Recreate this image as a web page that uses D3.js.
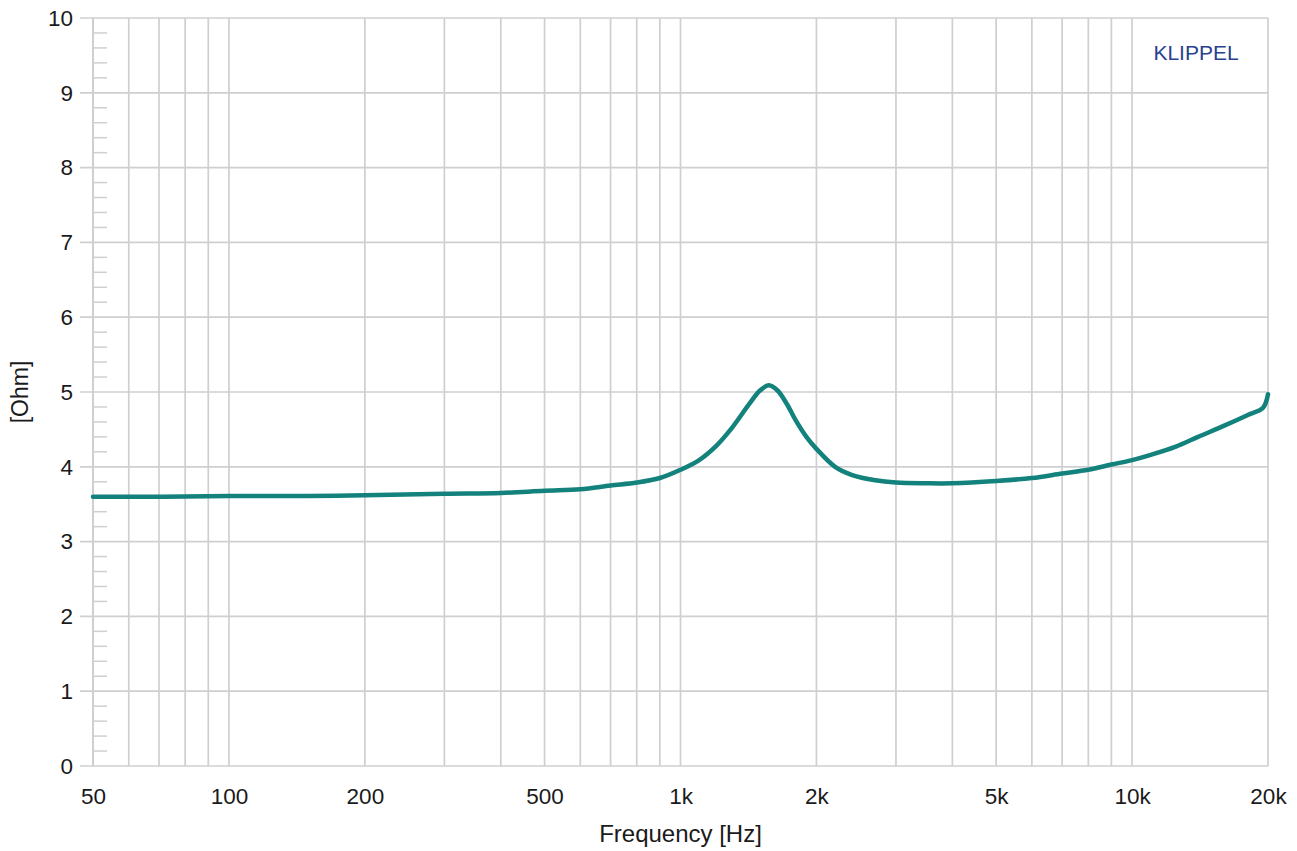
<!DOCTYPE html>
<html>
<head>
<meta charset="utf-8">
<script src="https://cdn.jsdelivr.net/npm/d3@7"></script>
<style>
  html, body { margin: 0; padding: 0; background: #fff; }
  svg { display: block; font-family: "Liberation Sans", Arial, sans-serif; }
</style>
</head>
<body>
<svg id="chart" width="1297" height="851"></svg>
<script>
// ---- data ----
const freqs = [50, 70, 100, 150, 200, 300, 400, 500, 600, 700, 800, 900, 1000, 1100, 1200, 1300, 1420, 1500, 1570, 1640, 1720, 1800, 1900, 2000, 2200, 2400, 2700, 3000, 3500, 4000, 5000, 6000, 7000, 8000, 9000, 10000, 11000, 12500, 14000, 16000, 18000, 19500, 20000];
const ohms  = [3.60, 3.60, 3.61, 3.61, 3.62, 3.64, 3.65, 3.68, 3.70, 3.75, 3.79, 3.85, 3.96, 4.09, 4.28, 4.52, 4.84, 5.02, 5.09, 5.02, 4.84, 4.62, 4.40, 4.24, 4.00, 3.89, 3.82, 3.79, 3.78, 3.78, 3.81, 3.85, 3.91, 3.96, 4.03, 4.09, 4.16, 4.27, 4.40, 4.55, 4.69, 4.79, 4.97];
const xTickValues = [50, 100, 200, 500, 1000, 2000, 5000, 10000, 20000];
const xTickLabels = ["50", "100", "200", "500", "1k", "2k", "5k", "10k", "20k"];
const xGridValues = [60, 70, 80, 90, 100, 200, 300, 400, 500, 600, 700, 800, 900, 1000, 2000, 3000, 4000, 5000, 6000, 7000, 8000, 9000, 10000, 20000];
const yTickValues = [0, 1, 2, 3, 4, 5, 6, 7, 8, 9, 10];
const yMinorValues = d3.range(0, 10, 0.2).filter(v => Math.abs(v - Math.round(v)) > 1e-6);
const xTitle = "Frequency [Hz]";
const yTitle = "[Ohm]";
const brand = "KLIPPEL";

(function () {
  // ---- layout ----
  const svg = d3.select("#chart");
  const pl = 93, pr = 1268, pt = 18, pb = 766;
  const x = d3.scaleLog().domain([50, 20000]).range([pl, pr]);
  const y = d3.scaleLinear().domain([0, 10]).range([pb, pt]);
  const gridColor = "#cfcfcf";
  const fs = 22.5;

  // horizontal grid lines (extend left as tick marks)
  svg.append("g").selectAll("line").data(yTickValues).join("line")
    .attr("x1", pl - 13).attr("x2", pr)
    .attr("y1", d => y(d)).attr("y2", d => y(d))
    .attr("stroke", gridColor).attr("stroke-width", 1.7);

  // vertical grid lines
  svg.append("g").selectAll("line").data(xGridValues).join("line")
    .attr("x1", d => x(d)).attr("x2", d => x(d))
    .attr("y1", pt).attr("y2", pb)
    .attr("stroke", gridColor).attr("stroke-width", 1.7);

  // left axis line
  svg.append("line")
    .attr("x1", pl).attr("x2", pl).attr("y1", pt).attr("y2", pb)
    .attr("stroke", gridColor).attr("stroke-width", 2);

  // minor y ticks
  svg.append("g").selectAll("line").data(yMinorValues).join("line")
    .attr("x1", pl).attr("x2", pl + 14)
    .attr("y1", d => y(d)).attr("y2", d => y(d))
    .attr("stroke", gridColor).attr("stroke-width", 1.5);

  // x tick labels via axis
  const xAxis = d3.axisBottom(x)
    .tickValues(xTickValues)
    .tickFormat((d, i) => xTickLabels[i])
    .tickSize(0).tickPadding(22);
  const gx = svg.append("g").attr("transform", `translate(0,${pb})`).call(xAxis);
  gx.select(".domain").remove();
  gx.selectAll("text").attr("font-size", fs).attr("fill", "#1a1a1a")
    .attr("font-family", "'Liberation Sans', Arial, sans-serif");

  // y tick labels via axis
  const yAxis = d3.axisLeft(y)
    .tickValues(yTickValues)
    .tickFormat(d3.format("d"))
    .tickSize(0).tickPadding(20);
  const gy = svg.append("g").attr("transform", `translate(${pl},0)`).call(yAxis);
  gy.select(".domain").remove();
  gy.selectAll("text").attr("font-size", fs).attr("fill", "#1a1a1a")
    .attr("font-family", "'Liberation Sans', Arial, sans-serif");

  // titles
  svg.append("text").attr("x", x(1000)).attr("y", 842)
    .attr("text-anchor", "middle").attr("font-size", 24).attr("fill", "#1a1a1a")
    .text(xTitle);
  svg.append("text")
    .attr("transform", `translate(28,${y(5)}) rotate(-90)`)
    .attr("text-anchor", "middle").attr("font-size", 23).attr("fill", "#1a1a1a")
    .text(yTitle);

  // brand
  svg.append("text").attr("x", 1196).attr("y", 60)
    .attr("text-anchor", "middle").attr("font-size", 21).attr("fill", "#2b4190")
    .text(brand);

  // curve
  const line = d3.line()
    .x((d, i) => x(freqs[i]))
    .y(d => y(d))
    .curve(d3.curveCatmullRom.alpha(0.5));
  svg.append("path").datum(ohms)
    .attr("d", line)
    .attr("fill", "none")
    .attr("stroke", "#13827c")
    .attr("stroke-width", 4.5)
    .attr("stroke-linejoin", "round")
    .attr("stroke-linecap", "round");
})();
</script>
</body>
</html>
